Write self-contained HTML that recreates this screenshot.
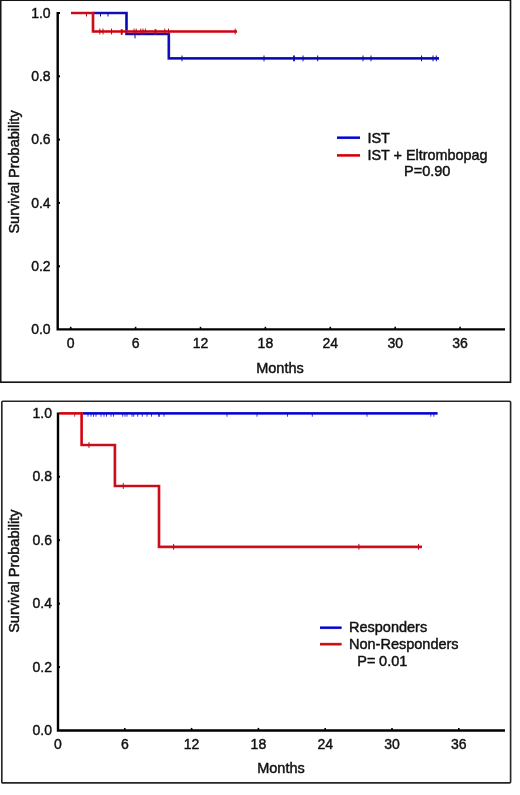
<!DOCTYPE html>
<html><head><meta charset="utf-8"><title>Survival</title>
<style>
html,body{margin:0;padding:0;background:#fff;}
body{width:520px;height:795px;overflow:hidden;position:relative;font-family:"Liberation Sans",sans-serif;}
svg text{font-family:"Liberation Sans",sans-serif;font-size:14.5px;fill:#111;stroke:#111;stroke-width:0.45px;}
svg text.t{font-size:14px;stroke-width:0.42px;}
</style></head><body>
<svg width="520" height="795" viewBox="0 0 520 795" style="display:block;filter:blur(0.42px)">
<rect width="520" height="795" fill="#fff"/>
<rect x="0.7" y="0.2" width="509.8" height="382" fill="none" stroke="#151515" stroke-width="1.65"/>
<rect x="1.8" y="401.2" width="508.8" height="381.7" fill="none" stroke="#262626" stroke-width="1.65" rx="1"/>
<path d="M57.7 12 V329.4 H505" fill="none" stroke="#000" stroke-width="2.4"/>
<line x1="57" y1="13" x2="60" y2="13" stroke="#000" stroke-width="2"/>
<line x1="57" y1="76.3" x2="60" y2="76.3" stroke="#000" stroke-width="2"/>
<line x1="57" y1="139.6" x2="60" y2="139.6" stroke="#000" stroke-width="2"/>
<line x1="57" y1="202.9" x2="60" y2="202.9" stroke="#000" stroke-width="2"/>
<line x1="57" y1="266.3" x2="60" y2="266.3" stroke="#000" stroke-width="2"/>
<line x1="70.7" y1="326.8" x2="70.7" y2="329.4" stroke="#000" stroke-width="1.6"/>
<line x1="135.6" y1="326.8" x2="135.6" y2="329.4" stroke="#000" stroke-width="1.6"/>
<line x1="200.5" y1="326.8" x2="200.5" y2="329.4" stroke="#000" stroke-width="1.6"/>
<line x1="265.4" y1="326.8" x2="265.4" y2="329.4" stroke="#000" stroke-width="1.6"/>
<line x1="330.3" y1="326.8" x2="330.3" y2="329.4" stroke="#000" stroke-width="1.6"/>
<line x1="395.2" y1="326.8" x2="395.2" y2="329.4" stroke="#000" stroke-width="1.6"/>
<line x1="460.1" y1="326.8" x2="460.1" y2="329.4" stroke="#000" stroke-width="1.6"/>
<path d="M93 13 H126.5 V34 H168.8 V58.4 H439" fill="none" stroke="#2222e2" stroke-width="2.7"/><path d="M93 13 H126.5 V34 H168.8 V58.4 H439" fill="none" stroke="#0808b0" stroke-width="1.3"/>
<line x1="135" y1="32.6" x2="135" y2="38.4" stroke="#0a0aa8" stroke-width="1"/>
<line x1="100.5" y1="12.5" x2="100.5" y2="16.5" stroke="#0a0aa8" stroke-width="1"/><line x1="108" y1="12.5" x2="108" y2="16.5" stroke="#0a0aa8" stroke-width="1"/>
<line x1="182" y1="55.5" x2="182" y2="61.3" stroke="#0a0aa8" stroke-width="1"/><line x1="264" y1="55.5" x2="264" y2="61.3" stroke="#0a0aa8" stroke-width="1"/><line x1="303" y1="55.5" x2="303" y2="61.3" stroke="#0a0aa8" stroke-width="1"/><line x1="317.7" y1="55.5" x2="317.7" y2="61.3" stroke="#0a0aa8" stroke-width="1"/><line x1="363" y1="55.5" x2="363" y2="61.3" stroke="#0a0aa8" stroke-width="1"/><line x1="371" y1="55.5" x2="371" y2="61.3" stroke="#0a0aa8" stroke-width="1"/><line x1="421.5" y1="55.5" x2="421.5" y2="61.3" stroke="#0a0aa8" stroke-width="1"/><line x1="433" y1="55.5" x2="433" y2="61.3" stroke="#0a0aa8" stroke-width="1"/><line x1="436.3" y1="55.5" x2="436.3" y2="61.3" stroke="#0a0aa8" stroke-width="1"/>
<line x1="294" y1="55.5" x2="294" y2="61.3" stroke="#0a0aa8" stroke-width="1.8"/>
<path d="M71 13 H93 V31.5 H237" fill="none" stroke="#e21a26" stroke-width="2.7"/><path d="M71 13 H93 V31.5 H237" fill="none" stroke="#be0a16" stroke-width="1.3"/>
<line x1="86.5" y1="12.5" x2="86.5" y2="16.5" stroke="#b80a16" stroke-width="1"/>
<line x1="99.8" y1="28.6" x2="99.8" y2="34.4" stroke="#b80a16" stroke-width="1"/><line x1="103" y1="28.6" x2="103" y2="34.4" stroke="#b80a16" stroke-width="1"/><line x1="111.5" y1="28.6" x2="111.5" y2="34.4" stroke="#b80a16" stroke-width="1"/><line x1="134" y1="28.6" x2="134" y2="34.4" stroke="#b80a16" stroke-width="1"/><line x1="136.2" y1="28.6" x2="136.2" y2="34.4" stroke="#b80a16" stroke-width="1"/><line x1="140.8" y1="28.6" x2="140.8" y2="34.4" stroke="#b80a16" stroke-width="1"/><line x1="143" y1="28.6" x2="143" y2="34.4" stroke="#b80a16" stroke-width="1"/><line x1="145.4" y1="28.6" x2="145.4" y2="34.4" stroke="#b80a16" stroke-width="1"/><line x1="164.8" y1="28.6" x2="164.8" y2="34.4" stroke="#b80a16" stroke-width="1"/><line x1="168.5" y1="28.6" x2="168.5" y2="34.4" stroke="#b80a16" stroke-width="1"/><line x1="235.2" y1="28.6" x2="235.2" y2="34.4" stroke="#b80a16" stroke-width="1"/>
<line x1="121.7" y1="29.1" x2="121.7" y2="34.9" stroke="#b80a16" stroke-width="1.8"/><line x1="155.5" y1="29.1" x2="155.5" y2="34.9" stroke="#b80a16" stroke-width="1.8"/>
<path d="M58 412.5 V730.5 H505" fill="none" stroke="#000" stroke-width="2.4"/>
<line x1="57" y1="476.75" x2="60" y2="476.75" stroke="#000" stroke-width="2"/>
<line x1="57" y1="540.2" x2="60" y2="540.2" stroke="#000" stroke-width="2"/>
<line x1="57" y1="603.65" x2="60" y2="603.65" stroke="#000" stroke-width="2"/>
<line x1="57" y1="667.1" x2="60" y2="667.1" stroke="#000" stroke-width="2"/>
<line x1="124.8" y1="727.9" x2="124.8" y2="730.5" stroke="#000" stroke-width="1.6"/>
<line x1="191.6" y1="727.9" x2="191.6" y2="730.5" stroke="#000" stroke-width="1.6"/>
<line x1="258.4" y1="727.9" x2="258.4" y2="730.5" stroke="#000" stroke-width="1.6"/>
<line x1="325.2" y1="727.9" x2="325.2" y2="730.5" stroke="#000" stroke-width="1.6"/>
<line x1="392.0" y1="727.9" x2="392.0" y2="730.5" stroke="#000" stroke-width="1.6"/>
<line x1="458.79999999999995" y1="727.9" x2="458.79999999999995" y2="730.5" stroke="#000" stroke-width="1.6"/>
<path d="M81 413.3 H437.5" fill="none" stroke="#2222e2" stroke-width="2.7"/><path d="M81 413.3 H437.5" fill="none" stroke="#0808b0" stroke-width="1.3"/>
<line x1="88" y1="414" x2="88" y2="416.7" stroke="#0a0aa8" stroke-width="1.0" opacity="0.8"/><line x1="91" y1="414" x2="91" y2="416.7" stroke="#0a0aa8" stroke-width="1.0" opacity="0.8"/><line x1="93.5" y1="414" x2="93.5" y2="416.7" stroke="#0a0aa8" stroke-width="1.0" opacity="0.8"/><line x1="96" y1="414" x2="96" y2="416.7" stroke="#0a0aa8" stroke-width="1.0" opacity="0.8"/><line x1="101" y1="414" x2="101" y2="416.7" stroke="#0a0aa8" stroke-width="1.0" opacity="0.8"/><line x1="104" y1="414" x2="104" y2="416.7" stroke="#0a0aa8" stroke-width="1.0" opacity="0.8"/><line x1="106.5" y1="414" x2="106.5" y2="416.7" stroke="#0a0aa8" stroke-width="1.0" opacity="0.8"/><line x1="111" y1="414" x2="111" y2="416.7" stroke="#0a0aa8" stroke-width="1.0" opacity="0.8"/><line x1="113.5" y1="414" x2="113.5" y2="416.7" stroke="#0a0aa8" stroke-width="1.0" opacity="0.8"/><line x1="122.7" y1="414" x2="122.7" y2="416.7" stroke="#0a0aa8" stroke-width="1.0" opacity="0.8"/><line x1="125" y1="414" x2="125" y2="416.7" stroke="#0a0aa8" stroke-width="1.0" opacity="0.8"/><line x1="127" y1="414" x2="127" y2="416.7" stroke="#0a0aa8" stroke-width="1.0" opacity="0.8"/><line x1="132" y1="414" x2="132" y2="416.7" stroke="#0a0aa8" stroke-width="1.0" opacity="0.8"/><line x1="133.7" y1="414" x2="133.7" y2="416.7" stroke="#0a0aa8" stroke-width="1.0" opacity="0.8"/><line x1="137.7" y1="414" x2="137.7" y2="416.7" stroke="#0a0aa8" stroke-width="1.0" opacity="0.8"/><line x1="142.3" y1="414" x2="142.3" y2="416.7" stroke="#0a0aa8" stroke-width="1.0" opacity="0.8"/><line x1="147" y1="414" x2="147" y2="416.7" stroke="#0a0aa8" stroke-width="1.0" opacity="0.8"/><line x1="151.5" y1="414" x2="151.5" y2="416.7" stroke="#0a0aa8" stroke-width="1.0" opacity="0.8"/><line x1="164" y1="414" x2="164" y2="416.7" stroke="#0a0aa8" stroke-width="1.0" opacity="0.8"/><line x1="227" y1="414" x2="227" y2="416.7" stroke="#0a0aa8" stroke-width="1.0" opacity="0.8"/><line x1="257" y1="414" x2="257" y2="416.7" stroke="#0a0aa8" stroke-width="1.0" opacity="0.8"/><line x1="287.5" y1="414" x2="287.5" y2="416.7" stroke="#0a0aa8" stroke-width="1.0" opacity="0.8"/><line x1="312.3" y1="414" x2="312.3" y2="416.7" stroke="#0a0aa8" stroke-width="1.0" opacity="0.8"/><line x1="367" y1="414" x2="367" y2="416.7" stroke="#0a0aa8" stroke-width="1.0" opacity="0.8"/><line x1="430.8" y1="414" x2="430.8" y2="416.7" stroke="#0a0aa8" stroke-width="1.0" opacity="0.8"/><line x1="433.8" y1="414" x2="433.8" y2="416.7" stroke="#0a0aa8" stroke-width="1.0" opacity="0.8"/>
<line x1="159" y1="414" x2="159" y2="416.7" stroke="#0a0aa8" stroke-width="1.8" opacity="0.8"/>
<path d="M59 413.3 H81.6 V445 H114.9 V486 H159 V546.8 H422" fill="none" stroke="#e21a26" stroke-width="2.7"/><path d="M59 413.3 H81.6 V445 H114.9 V486 H159 V546.8 H422" fill="none" stroke="#be0a16" stroke-width="1.3"/>
<line x1="74.7" y1="414" x2="74.7" y2="416.7" stroke="#b80a16" stroke-width="1.0" opacity="0.8"/>
<line x1="89" y1="442.1" x2="89" y2="447.9" stroke="#b80a16" stroke-width="1"/>
<line x1="123.3" y1="483.1" x2="123.3" y2="488.9" stroke="#b80a16" stroke-width="1"/>
<line x1="173.6" y1="543.9" x2="173.6" y2="549.6999999999999" stroke="#b80a16" stroke-width="1"/><line x1="358.9" y1="543.9" x2="358.9" y2="549.6999999999999" stroke="#b80a16" stroke-width="1"/><line x1="418.5" y1="543.9" x2="418.5" y2="549.6999999999999" stroke="#b80a16" stroke-width="1"/>
<text transform="translate(50.6,17.6) scale(1.0,1)" text-anchor="end" class="t">1.0</text>
<text transform="translate(50.6,80.89999999999999) scale(1.0,1)" text-anchor="end" class="t">0.8</text>
<text transform="translate(50.6,144.2) scale(1.0,1)" text-anchor="end" class="t">0.6</text>
<text transform="translate(50.6,207.5) scale(1.0,1)" text-anchor="end" class="t">0.4</text>
<text transform="translate(50.6,270.90000000000003) scale(1.0,1)" text-anchor="end" class="t">0.2</text>
<text transform="translate(50.6,334.1) scale(1.0,1)" text-anchor="end" class="t">0.0</text>
<text transform="translate(70.7,348.3) scale(1.0,1)" text-anchor="middle" class="t">0</text>
<text transform="translate(135.6,348.3) scale(1.0,1)" text-anchor="middle" class="t">6</text>
<text transform="translate(200.5,348.3) scale(1.0,1)" text-anchor="middle" class="t">12</text>
<text transform="translate(265.4,348.3) scale(1.0,1)" text-anchor="middle" class="t">18</text>
<text transform="translate(330.3,348.3) scale(1.0,1)" text-anchor="middle" class="t">24</text>
<text transform="translate(395.2,348.3) scale(1.0,1)" text-anchor="middle" class="t">30</text>
<text transform="translate(460.1,348.3) scale(1.0,1)" text-anchor="middle" class="t">36</text>
<text x="280" y="372.5" text-anchor="middle" >Months</text>
<text transform="translate(18.6,171.9) rotate(-90)" text-anchor="middle">Survival Probability</text>
<path d="M337 137.7 H360" fill="none" stroke="#2222e2" stroke-width="2.7"/><path d="M337 137.7 H360" fill="none" stroke="#0808b0" stroke-width="1.3"/>
<path d="M337 155.4 H360" fill="none" stroke="#e21a26" stroke-width="2.7"/><path d="M337 155.4 H360" fill="none" stroke="#be0a16" stroke-width="1.3"/>
<text x="367.4" y="142.8" text-anchor="start" >IST</text>
<text x="367.4" y="160" text-anchor="start" style="font-size:14.4px">IST + Eltrombopag</text>
<text x="404" y="175.9" text-anchor="start" >P=0.90</text>
<text transform="translate(52,417.90000000000003) scale(1.0,1)" text-anchor="end" class="t">1.0</text>
<text transform="translate(52,481.35) scale(1.0,1)" text-anchor="end" class="t">0.8</text>
<text transform="translate(52,544.8000000000001) scale(1.0,1)" text-anchor="end" class="t">0.6</text>
<text transform="translate(52,608.25) scale(1.0,1)" text-anchor="end" class="t">0.4</text>
<text transform="translate(52,671.7) scale(1.0,1)" text-anchor="end" class="t">0.2</text>
<text transform="translate(52,735.15) scale(1.0,1)" text-anchor="end" class="t">0.0</text>
<text transform="translate(58.0,749.1) scale(1.0,1)" text-anchor="middle" class="t">0</text>
<text transform="translate(124.8,749.1) scale(1.0,1)" text-anchor="middle" class="t">6</text>
<text transform="translate(191.6,749.1) scale(1.0,1)" text-anchor="middle" class="t">12</text>
<text transform="translate(258.4,749.1) scale(1.0,1)" text-anchor="middle" class="t">18</text>
<text transform="translate(325.2,749.1) scale(1.0,1)" text-anchor="middle" class="t">24</text>
<text transform="translate(392.0,749.1) scale(1.0,1)" text-anchor="middle" class="t">30</text>
<text transform="translate(458.79999999999995,749.1) scale(1.0,1)" text-anchor="middle" class="t">36</text>
<text x="281" y="773.2" text-anchor="middle" >Months</text>
<text transform="translate(19.1,571.2) rotate(-90)" text-anchor="middle">Survival Probability</text>
<path d="M320 627.7 H341.5" fill="none" stroke="#2222e2" stroke-width="2.7"/><path d="M320 627.7 H341.5" fill="none" stroke="#0808b0" stroke-width="1.3"/>
<path d="M320 644.2 H341.5" fill="none" stroke="#e21a26" stroke-width="2.7"/><path d="M320 644.2 H341.5" fill="none" stroke="#be0a16" stroke-width="1.3"/>
<text x="349" y="631.6" text-anchor="start" >Responders</text>
<text x="349" y="649" text-anchor="start" >Non-Responders</text>
<text x="357.3" y="665.5" text-anchor="start" style="word-spacing:-0.4px">P= 0.01</text>
</svg>
</body></html>
